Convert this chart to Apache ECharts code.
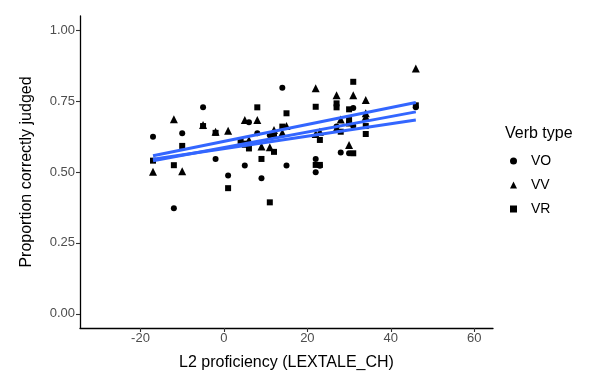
<!DOCTYPE html>
<html>
<head>
<meta charset="utf-8">
<script src="https://cdn.jsdelivr.net/npm/echarts@6/dist/echarts.min.js"></script>
<style>
  html, body { margin: 0; padding: 0; background: #fff; }
  #chart { width: 602px; height: 376px; }
</style>
</head>
<body>
<div id="chart"></div>
<script>
// [LEXTALE_CH, proportion correct]
const voPoints = [
  [-17, 0.624], [-12, 0.372], [-10, 0.637], [-5, 0.728], [-2, 0.546], [1, 0.488],
  [5, 0.523], [6, 0.675], [8, 0.637], [9, 0.478], [11, 0.630], [14, 0.797],
  [15, 0.523], [22, 0.546], [22, 0.499], [23, 0.522], [27, 0.660], [28, 0.569],
  [30, 0.566], [31, 0.726], [31, 0.662], [46, 0.728]
];
const vvPoints = [
  [-17, 0.501], [-12, 0.686], [-10, 0.503], [-5, 0.666], [-2, 0.642], [1, 0.645],
  [5, 0.683], [6, 0.613], [8, 0.683], [9, 0.590], [11, 0.587], [12, 0.648],
  [14, 0.638], [15, 0.662], [22, 0.795], [22, 0.634], [23, 0.642], [27, 0.771],
  [27, 0.654], [28, 0.685], [30, 0.595], [31, 0.771], [34, 0.754], [34, 0.707],
  [34, 0.695], [46, 0.865]
];
const vrPoints = [
  [-17, 0.540], [-12, 0.524], [-10, 0.592], [-5, 0.662], [-2, 0.638], [1, 0.443],
  [4, 0.610], [5, 0.600], [5, 0.596], [6, 0.583], [8, 0.728], [9, 0.546],
  [11, 0.393], [12, 0.634], [12, 0.571], [14, 0.660], [15, 0.707], [22, 0.730],
  [22, 0.525], [23, 0.613], [23, 0.525], [27, 0.742], [27, 0.728], [28, 0.642],
  [30, 0.721], [30, 0.683], [30, 0.671], [31, 0.818], [31, 0.566], [34, 0.662],
  [34, 0.634], [46, 0.735]
];
// fitted lines (endpoints as drawn)
const fitVO = [[-17, 0.545], [46, 0.683]];
const fitVV = [[-17, 0.557], [46, 0.745]];
const fitVR = [[-17, 0.540], [46, 0.712]];

const xTicks = [-20, 0, 20, 40, 60];
const yTicks = [0, 0.25, 0.5, 0.75, 1];

const FONT = 'Liberation Sans';
const fitColor = '#3366FF';

const chart = echarts.init(document.getElementById('chart'), null, { renderer: 'canvas' });

const pointSeries = (name, data, symbol, size) => ({
  name: name,
  type: 'scatter',
  data: data,
  symbol: symbol,
  symbolSize: size,
  itemStyle: { color: '#000', opacity: 1 },
  z: 2
});
const fitSeries = (data) => ({
  type: 'line',
  data: data,
  showSymbol: false,
  symbol: 'none',
  lineStyle: { color: fitColor, width: 3 },
  silent: true,
  z: 3
});

chart.setOption({
  animation: false,
  textStyle: { fontFamily: FONT },
  grid: { left: 80, right: 109, top: 16, bottom: 48, containLabel: false },
  xAxis: {
    type: 'value',
    min: -34.5,
    max: 64.5,
    name: 'L2 proficiency (LEXTALE_CH)',
    nameLocation: 'middle',
    nameGap: 27,
    nameTextStyle: { color: '#000', fontSize: 16, fontFamily: FONT },
    axisLine: { show: true, onZero: false, lineStyle: { color: '#000', width: 1.3 } },
    axisTick: { show: true, length: 4, customValues: xTicks, lineStyle: { color: '#333', width: 1.1 } },
    axisLabel: { customValues: xTicks, color: '#4D4D4D', fontSize: 13, margin: 4, fontFamily: FONT },
    splitLine: { show: false }
  },
  yAxis: {
    type: 'value',
    min: -0.05,
    max: 1.05,
    name: 'Proportion correctly judged',
    nameLocation: 'middle',
    nameGap: 45,
    nameTextStyle: { color: '#000', fontSize: 16, fontFamily: FONT },
    axisLine: { show: true, onZero: false, lineStyle: { color: '#000', width: 1.3 } },
    axisTick: { show: true, length: 4, customValues: yTicks, lineStyle: { color: '#333', width: 1.1 } },
    axisLabel: {
      customValues: yTicks, color: '#4D4D4D', fontSize: 13, margin: 5, fontFamily: FONT,
      formatter: (v) => v.toFixed(2)
    },
    splitLine: { show: false }
  },
  title: {
    text: 'Verb type',
    left: 500,
    top: 121,
    textStyle: { fontSize: 16, fontWeight: 'normal', color: '#000', fontFamily: FONT }
  },
  legend: {
    orient: 'vertical',
    left: 505,
    top: 149,
    itemGap: 10,
    itemWidth: 7,
    itemHeight: 7,
    selectedMode: false,
    textStyle: { fontSize: 14, color: '#000', fontFamily: FONT, padding: [0, 0, 0, 9] },
    data: [
      { name: 'VO', icon: 'circle' },
      { name: 'VV', icon: 'triangle' },
      { name: 'VR', icon: 'rect' }
    ]
  },
  series: [
    pointSeries('VO', voPoints, 'circle', 6),
    pointSeries('VV', vvPoints, 'triangle', 8),
    pointSeries('VR', vrPoints, 'rect', 6),
    fitSeries(fitVO),
    fitSeries(fitVV),
    fitSeries(fitVR)
  ]
});
</script>
</body>
</html>
